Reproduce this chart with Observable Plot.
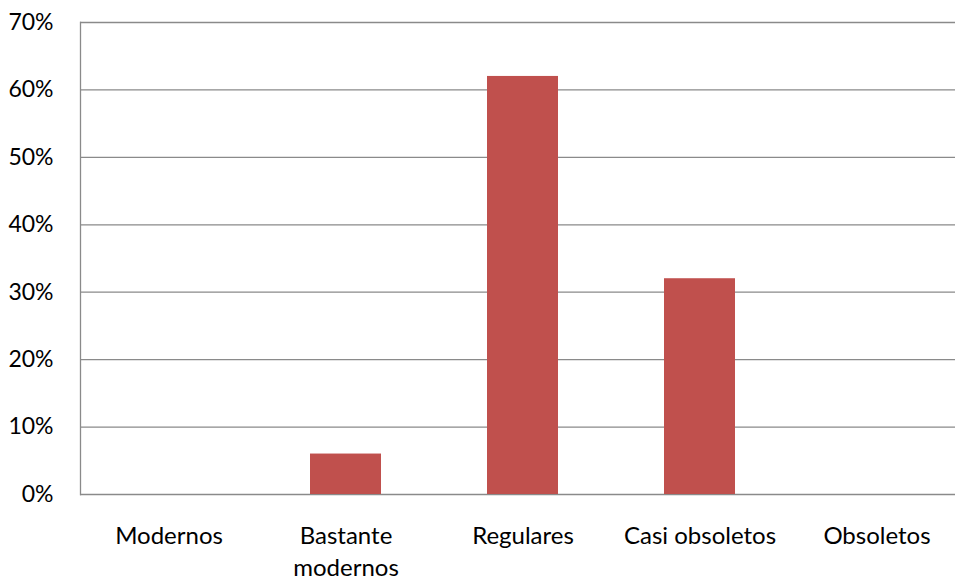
<!DOCTYPE html>
<html>
<head>
<meta charset="utf-8">
<script src="https://cdn.jsdelivr.net/npm/d3@7"></script>
<script src="https://cdn.jsdelivr.net/npm/@observablehq/plot@0.6"></script>
<style>
  html, body { margin: 0; padding: 0; background: #fff; }
  #chart svg { display: block; }
</style>
</head>
<body>
<div id="chart"></div>
<script>
const categories = ["Modernos", "Bastante modernos", "Regulares", "Casi obsoletos", "Obsoletos"];
const labels = ["Modernos", "Bastante\nmodernos", "Regulares", "Casi obsoletos", "Obsoletos"];
const values = [0, 0.06, 0.62, 0.32, 0];
const yTicks = [0, 0.1, 0.2, 0.3, 0.4, 0.5, 0.6, 0.7];

const data = categories.map((c, i) => ({category: c, value: values[i]}));
const labelOf = new Map(categories.map((c, i) => [c, labels[i]]));
const font = "Lato, 'Open Sans', sans-serif";

const chart = Plot.plot({
  width: 955,
  height: 581,
  marginLeft: 80,
  marginRight: 0,
  marginTop: 22,
  marginBottom: 87,
  style: {fontFamily: font, fontSize: "24px", color: "#000", background: "#fff"},
  x: {domain: categories, range: [80, 965], paddingInner: 0.6, paddingOuter: 0.3, label: null},
  y: {domain: [0, 0.7], label: null},
  marks: [
    Plot.ruleY(yTicks, {stroke: "#8a8a8a", strokeWidth: 1.3, strokeOpacity: 1}),
    Plot.frame({anchor: "left", stroke: "#8a8a8a", strokeWidth: 1.3}),
    Plot.barY(data, {x: "category", y: "value", fill: "#C0504D"}),
    Plot.axisY(yTicks, {tickSize: 0, tickPadding: 27, tickFormat: d => Math.round(d * 100) + "%", fontSize: 23, fill: "#000", label: null}),
    Plot.axisX({tickSize: 0, tickPadding: 27, tickFormat: d => labelOf.get(d), fontSize: 24, lineHeight: 1.32, fill: "#000", label: null})
  ]
});
document.getElementById("chart").appendChild(chart);
</script>
</body>
</html>
